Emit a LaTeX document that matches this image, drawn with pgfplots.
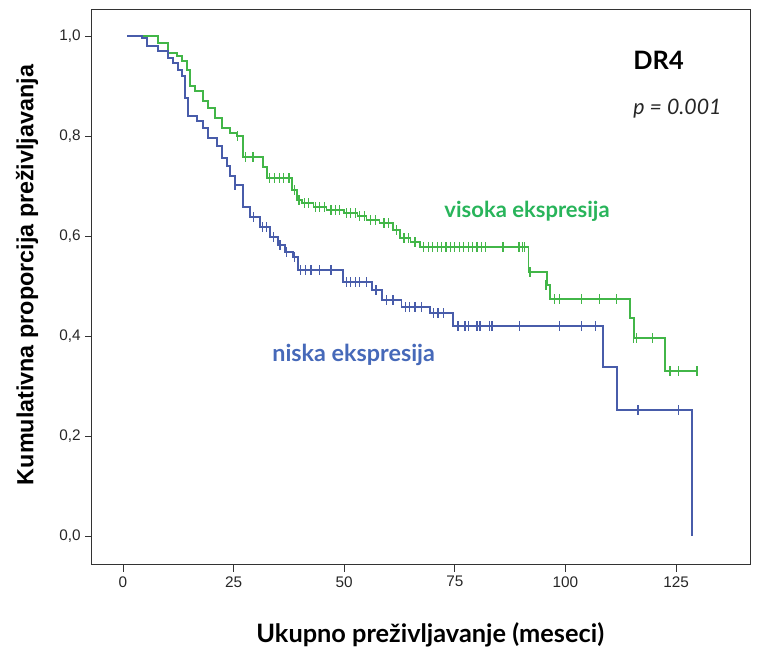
\documentclass[border=0pt]{standalone}
\usepackage{pgfplots}
\pgfplotsset{compat=1.18}
\usepackage{fontspec}
\setmainfont{Liberation Sans}
\newfontfamily\lato{Lato}
\definecolor{kmgreen}{RGB}{66,182,72}
\definecolor{kmblue}{RGB}{72,92,170}
\definecolor{txtgreen}{RGB}{40,180,90}
\definecolor{txtblue}{RGB}{70,105,185}
\begin{document}
\begin{tikzpicture}
\begin{axis}[
  scale only axis,
  width=493.5pt, height=416.25pt,
  xmin=-7, xmax=141.7, ymin=-0.058, ymax=1.052,
  xtick={0,25,50,75,100,125},
  ytick={0,0.2,0.4,0.6,0.8,1.0},
  tick align=outside,
  xtick pos=bottom, ytick pos=left,
  major tick length=5pt,
  tick style={black!80, line width=0.6pt},
  axis line style={black!80, line width=0.75pt},
  /pgf/number format/assume math mode=true,
  yticklabel style={/pgf/number format/.cd, fixed, fixed zerofill, precision=1, use comma},
  ticklabel style={font=\fontsize{11.5}{13}\selectfont, text=black!85},
  clip=false,
]
% high expression (green)
\addplot[const plot, color=kmgreen, line width=1.1pt] coordinates {
(1,1.0) (7.9,0.986) (10.2,0.966) (12.2,0.96) (13.3,0.95) (14.5,0.932) (15.1,0.90)
(16.3,0.89) (18.1,0.87) (19.2,0.856) (20.8,0.836) (22.4,0.816) (24.2,0.806) (25.8,0.80)
(27.1,0.758) (31.6,0.738) (32.5,0.716) (38.2,0.692) (39.3,0.672) (40.5,0.666) (43,0.658)
(46,0.652) (50,0.646) (53,0.64) (55,0.632) (58,0.626) (61,0.612) (62.6,0.596) (65,0.588)
(67.1,0.578) (91.6,0.528) (95.8,0.502) (96.5,0.474) (114.6,0.436) (115.5,0.396)
(122.5,0.33) (129.7,0.33)
};
% low expression (blue)
\addplot[const plot, color=kmblue, line width=1.1pt] coordinates {
(1,1.0) (4.3,0.996) (5.4,0.98) (7.9,0.97) (10.2,0.956) (11.3,0.946) (12.4,0.932)
(13.3,0.92) (14,0.876) (14.7,0.84) (16.7,0.83) (18.1,0.816) (19.2,0.796) (21.2,0.78)
(22.4,0.756) (23.5,0.74) (24.2,0.72) (25.3,0.702) (27.1,0.658) (28.7,0.638) (31,0.618)
(33.2,0.598) (35,0.582) (36.6,0.568) (38.4,0.558) (39.6,0.532) (49.7,0.508) (56.3,0.492)
(58.5,0.472) (63,0.458) (69.4,0.446) (74.6,0.42) (108.5,0.338) (111.6,0.252) (128.6,0.0)
};
% censored (green)
\addplot[only marks, mark=|, mark size=3.5pt, color=kmgreen, mark options={line width=0.9pt}] coordinates {
(25.8,0.80) (27.6,0.758) (29.4,0.758) (33.2,0.716) (34.3,0.716) (35.4,0.716) (36.2,0.716)
(37.5,0.716) (38.8,0.692) (39.8,0.672) (41,0.666) (42,0.666) (43.5,0.658) (44.5,0.658)
(45.5,0.658) (47,0.652) (48,0.652) (49,0.652) (50.5,0.646) (51.5,0.646) (52.5,0.646)
(53.5,0.64) (54.5,0.64) (56,0.632) (57,0.632) (59,0.626) (60,0.626) (61.8,0.612)
(63.5,0.596) (64.5,0.596) (66,0.588) (68,0.578) (69,0.578) (70,0.578) (71,0.578)
(72,0.578) (73,0.578) (74,0.578) (75,0.578) (76,0.578) (77,0.578) (78,0.578) (79,0.578)
(80,0.578) (81,0.578) (82,0.578) (85.9,0.578) (89.5,0.578) (90.2,0.578) (90.8,0.578)
(92,0.528) (95.6,0.502) (97.6,0.474) (98.6,0.474) (103.7,0.474) (107.6,0.474)
(111.6,0.474) (115.3,0.396) (116,0.396) (119.6,0.396) (123.6,0.33) (125.5,0.33) (129.7,0.33)
};
% censored (blue)
\addplot[only marks, mark=|, mark size=3.5pt, color=kmblue, mark options={line width=0.9pt}] coordinates {
(25.3,0.702) (29.5,0.638) (31.5,0.618) (32.5,0.618) (34,0.598) (35.5,0.582) (37,0.568)
(38.8,0.558) (40.2,0.532) (41.3,0.532) (42.5,0.532) (44.5,0.532) (47,0.532) (50.5,0.508)
(51.5,0.508) (52.5,0.508) (53.5,0.508) (55,0.508) (57.2,0.492) (59.6,0.472) (61,0.472)
(63.8,0.458) (64.8,0.458) (66,0.458) (67.5,0.458) (70.2,0.446) (71.2,0.446) (72.5,0.446)
(75.7,0.42) (77.3,0.42) (78,0.42) (80,0.42) (80.7,0.42) (82.8,0.42) (83.4,0.42)
(89.7,0.42) (98.7,0.42) (103.7,0.42) (106.7,0.42) (116.4,0.252) (125.5,0.252)
};
\node[anchor=west, inner sep=0pt, font=\lato\bfseries\fontsize{19}{22}\selectfont] at (axis cs:115.3,0.952) {DR4};
\node[anchor=west, inner sep=0pt, font=\lato\itshape\fontsize{16}{18}\selectfont, text=black!85] at (axis cs:115.3,0.855) {p = 0.001};
\node[anchor=west, inner sep=0pt, font=\lato\bfseries\fontsize{16.5}{19}\selectfont, text=txtgreen] at (axis cs:72.6,0.65) {visoka ekspresija};
\node[anchor=west, inner sep=0pt, font=\lato\bfseries\fontsize{17.5}{20}\selectfont, text=txtblue] at (axis cs:33.7,0.362) {niska ekspresija};
\node[rotate=90, inner sep=0pt, font=\bfseries\fontsize{17.5}{20}\selectfont] at ([xshift=-48.75pt]rel axis cs:0,0.5225) {Kumulativna proporcija preživljavanja};
\node[inner sep=0pt, font=\lato\bfseries\fontsize{19}{22}\selectfont] at ([yshift=-52.5pt]rel axis cs:0.514,0) {Ukupno preživljavanje (meseci)};
\end{axis}
\path (current axis.south west) ++(-69pt,-65.25pt) coordinate (bbA);
\path (current axis.north east) ++(11.25pt,7.5pt) coordinate (bbB);
\path (bbA) rectangle (bbB);
\end{tikzpicture}
\end{document}
